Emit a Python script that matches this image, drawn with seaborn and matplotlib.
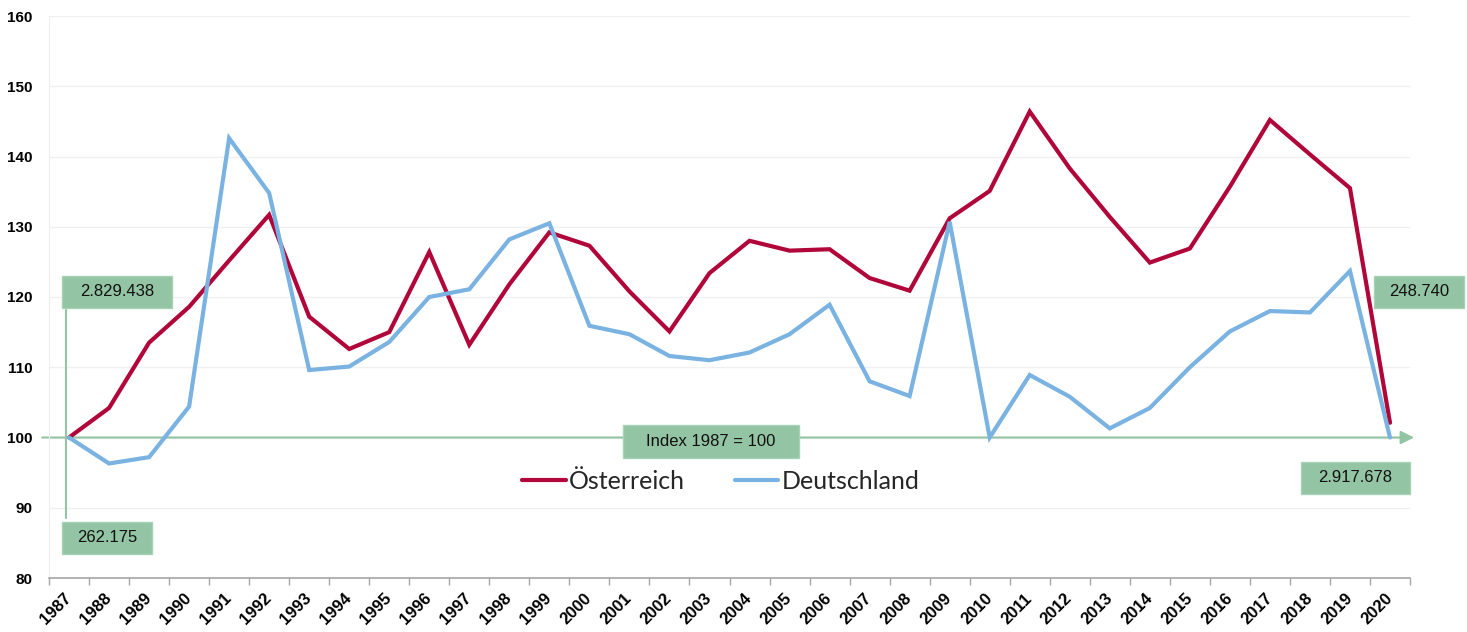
import numpy as np
import pandas as pd
import matplotlib
matplotlib.use("Agg")
import matplotlib.pyplot as plt
from matplotlib.patches import Rectangle
import seaborn as sns

# data (Index 1987 = 100)
years = list(range(1987, 2021))
oesterreich = [100.0, 104.2, 113.5, 118.6, 125.2, 131.7, 117.2, 112.6, 115.0, 126.4,
               113.2, 121.8, 129.2, 127.3, 120.8, 115.1, 123.4, 128.0, 126.6, 126.8,
               122.7, 120.9, 131.2, 135.1, 146.4, 138.3, 131.4, 124.9, 126.9, 135.7,
               145.2, 140.3, 135.5, 102.1]
deutschland = [100.0, 96.3, 97.2, 104.4, 142.6, 134.8, 109.6, 110.1, 113.6, 120.0,
               121.1, 128.2, 130.5, 115.9, 114.7, 111.6, 111.0, 112.1, 114.7, 118.9,
               108.0, 105.9, 130.7, 100.0, 108.9, 105.8, 101.3, 104.2, 110.0, 115.1,
               118.0, 117.8, 123.7, 100.0]
series_names = ["Österreich", "Deutschland"]
y_ticks = [80, 90, 100, 110, 120, 130, 140, 150, 160]
box_texts = ["2.829.438", "262.175", "Index 1987 = 100", "248.740", "2.917.678"]

red = "#b0063a"
blue = "#7ab3e2"
green = "#93c4a4"

df = pd.DataFrame({"pos": list(range(len(years))) * 2,
                   "value": oesterreich + deutschland,
                   "Land": [series_names[0]] * len(years) + [series_names[1]] * len(years)})

W, H = 1467, 632
fig = plt.figure(figsize=(W / 100, H / 100), dpi=100)
ax = fig.add_axes([49 / W, 1 - 578 / H, (1410 - 49) / W, (578 - 16) / H])
sns.set_style("white")

sns.lineplot(data=df, x="pos", y="value", hue="Land", palette=[red, blue],
             linewidth=3.0, ax=ax, legend=True)
for ln in ax.lines:
    ln.set_solid_joinstyle("miter")

ax.set_xlim(-0.5, len(years) - 0.5)
ax.set_ylim(80, 160)
ax.set_yticks(y_ticks)
ax.set_yticklabels([str(t) for t in y_ticks], fontsize=11, fontweight="bold",
                   family="Liberation Sans")
ax.set_xticks(range(len(years)))
ax.set_xticklabels([str(y) for y in years], rotation=45, ha="right", va="center",
                   rotation_mode="anchor", fontsize=12, fontweight="bold",
                   family="Liberation Sans")
ax.set_xticks(np.arange(-0.5, len(years), 1), minor=True)
ax.tick_params(axis="x", which="major", length=0, pad=13)
ax.tick_params(axis="x", which="minor", length=5, color="#a6a6a6", width=1)
ax.tick_params(axis="y", length=0, pad=12)
ax.set_xlabel("")
ax.set_ylabel("")
ax.grid(axis="y", color="#f0f0f0", linewidth=1)
ax.set_axisbelow(True)
for s in ["top", "right"]:
    ax.spines[s].set_visible(False)
ax.spines["left"].set_color("#eeeeee")
ax.spines["bottom"].set_color("#a6a6a6")
ax.spines["bottom"].set_linewidth(1.2)

# index line with arrow
ax.annotate("", xy=(1.003, 100), xytext=(-0.005, 100),
            xycoords=("axes fraction", "data"), textcoords=("axes fraction", "data"),
            arrowprops=dict(arrowstyle="-|>", color=green, lw=1.5, mutation_scale=20,
                            shrinkA=0, shrinkB=0), zorder=1)
ax.plot([-0.08, -0.08], [88.5, 118.2], color=green, lw=1.5, zorder=1)

# legend
handles, labels = ax.get_legend_handles_labels()
ax.legend(handles, labels, loc="center", bbox_to_anchor=(0.4935, 0.172), ncol=2,
          frameon=False, handlelength=1.75, handletextpad=0.12, columnspacing=2.0,
          prop={"family": "Lato", "size": 18})

# green label boxes (pixel positions of the picture)
boxes = [(62, 276, 172, 308), (62, 522, 152, 554), (623, 425, 799, 458),
         (1374, 276, 1464, 308), (1301, 462, 1410, 494)]
for (x0, y0, x1, y1), txt in zip(boxes, box_texts):
    fig.patches.append(Rectangle((x0 / W, 1 - y1 / H), (x1 - x0) / W, (y1 - y0) / H,
                                 transform=fig.transFigure, facecolor=green,
                                 edgecolor="#a8d2b6", lw=1, zorder=5))
    fig.text((x0 + x1) / 2 / W, 1 - (y0 + y1) / 2 / H, txt, ha="center", va="center",
             fontsize=12, family="Liberation Sans", color="#111111", zorder=6)

fig.savefig("out.png", dpi=100)
